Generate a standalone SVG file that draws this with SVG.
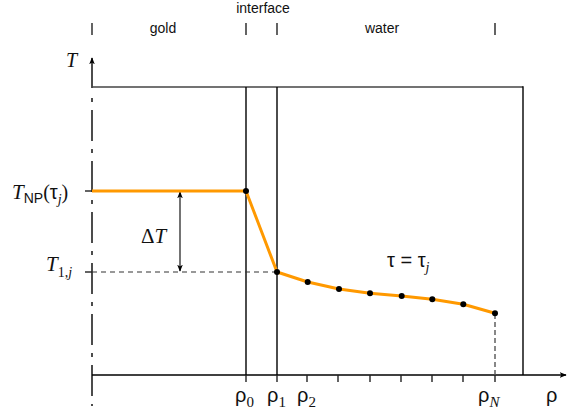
<svg xmlns="http://www.w3.org/2000/svg" width="584" height="416" viewBox="0 0 584 416">
<style>
.ln{stroke:#000;stroke-width:1.4;fill:none}
.tk{stroke:#222;stroke-width:1.4}
.lbl{font-family:"Liberation Sans",Arial,sans-serif;font-size:14px;fill:#111}
.gr{font-family:"Liberation Sans",Arial,sans-serif;font-size:20px;fill:#111}
.mi{font-family:"Liberation Serif","Times New Roman",serif;font-style:italic;fill:#111}
.rm{font-family:"Liberation Serif","Times New Roman",serif;fill:#111}
.dot{fill:#000}
</style>
<defs>
<marker id="ah" viewBox="0 0 10 10" refX="9" refY="5" markerWidth="7" markerHeight="7" orient="auto-start-reverse" markerUnits="userSpaceOnUse">
<path d="M0,1 L10,5 L0,9 L2.5,5 Z" fill="#000"/>
</marker>
</defs>
<rect width="584" height="416" fill="#fff"/>
<g id="regions">
<line class="tk" x1="92" y1="23" x2="92" y2="35"/>
<line class="tk" x1="246" y1="23" x2="246" y2="35"/>
<line class="tk" x1="277" y1="23" x2="277" y2="35"/>
<line class="tk" x1="495" y1="23" x2="495" y2="35"/>
<text class="lbl" x="263" y="13" text-anchor="middle">interface</text>
<text class="lbl" x="163" y="33" text-anchor="middle">gold</text>
<text class="lbl" x="382" y="33" text-anchor="middle">water</text>
</g>
<g id="axes">
<line class="ln" x1="92" y1="88" x2="92" y2="58" marker-end="url(#ah)"/>
<line x1="92" y1="98" x2="92" y2="406" stroke="#000" stroke-width="1.4" stroke-dasharray="4 8 31 8"/>
<line class="ln" x1="92" y1="375" x2="566" y2="375" marker-end="url(#ah)"/>
<text class="mi" x="66" y="67" font-size="20">T</text>
<text class="gr" x="546" y="402">ρ</text>
</g>
<g id="box">
<line x1="92" y1="87" x2="523" y2="87" stroke="#444" stroke-width="1.6"/>
<line class="ln" x1="523" y1="86.3" x2="523" y2="375"/>
<line class="ln" x1="246" y1="87" x2="246" y2="375"/>
<line class="ln" x1="277" y1="87" x2="277" y2="375"/>
</g>
<g id="ticks">
<line class="tk" x1="246" y1="375" x2="246" y2="382"/>
<line class="tk" x1="277" y1="375" x2="277" y2="382"/>
<line class="tk" x1="307" y1="375" x2="307" y2="382"/>
<line class="tk" x1="338" y1="375" x2="338" y2="382"/>
<line class="tk" x1="370" y1="375" x2="370" y2="382"/>
<line class="tk" x1="401" y1="375" x2="401" y2="382"/>
<line class="tk" x1="432" y1="375" x2="432" y2="382"/>
<line class="tk" x1="463" y1="375" x2="463" y2="382"/>
<line class="tk" x1="495" y1="375" x2="495" y2="382"/>
<line class="tk" x1="85" y1="191" x2="92" y2="191"/>
<line class="tk" x1="85" y1="272" x2="92" y2="272"/>
</g>
<g id="xlabels">
<text class="gr" x="235" y="402">ρ<tspan class="rm" font-size="15" dy="5">0</tspan></text>
<text class="gr" x="267" y="402">ρ<tspan class="rm" font-size="15" dy="5">1</tspan></text>
<text class="gr" x="297" y="402">ρ<tspan class="rm" font-size="15" dy="5">2</tspan></text>
<text class="gr" x="478" y="402">ρ<tspan class="mi" font-size="15" dy="5">N</tspan></text>
</g>
<g id="ylabels">
<text x="12" y="199"><tspan class="mi" font-size="21">T</tspan><tspan class="lbl" font-size="14" dy="4">NP</tspan><tspan class="rm" font-size="20" dy="-4">(</tspan><tspan class="gr">τ</tspan><tspan class="mi" font-size="14" dy="5">j</tspan><tspan class="rm" font-size="20" dy="-5">)</tspan></text>
<text x="46" y="271"><tspan class="mi" font-size="21">T</tspan><tspan class="rm" font-size="14" dy="6">1,</tspan><tspan class="mi" font-size="14">j</tspan></text>
</g>
<g id="connectors">
<line x1="92" y1="272" x2="277" y2="272" stroke="#333" stroke-width="1.2" stroke-dasharray="5 4"/>
<line x1="495" y1="314" x2="495" y2="375" stroke="#555" stroke-width="1.4" stroke-dasharray="5 3"/>
<line x1="180" y1="192" x2="180" y2="271" stroke="#000" stroke-width="1.1" marker-start="url(#ah)" marker-end="url(#ah)"/>
</g>
<g id="delta">
<text x="141" y="243" font-size="21"><tspan class="rm">Δ</tspan><tspan class="mi">T</tspan></text>
</g>
<g id="curve">
<polyline points="92,191 246,191 277,272 307.7,282 339,289 370,293.3 401.7,296 432.3,299.3 463.3,304.3 495,313.3" fill="none" stroke="#FF9900" stroke-width="3" stroke-linejoin="round"/>
<circle class="dot" cx="246" cy="191" r="3"/>
<circle class="dot" cx="277" cy="272" r="3"/>
<circle class="dot" cx="307.7" cy="282" r="3"/>
<circle class="dot" cx="339" cy="289" r="3"/>
<circle class="dot" cx="370" cy="293.3" r="3"/>
<circle class="dot" cx="401.7" cy="296" r="3"/>
<circle class="dot" cx="432.3" cy="299.3" r="3"/>
<circle class="dot" cx="463.3" cy="304.3" r="3"/>
<circle class="dot" cx="495" cy="313.3" r="3"/>
</g>
<g id="tau">
<text class="gr" x="387" y="267">τ = τ<tspan class="mi" font-size="14" dy="5">j</tspan></text>
</g>
</svg>
